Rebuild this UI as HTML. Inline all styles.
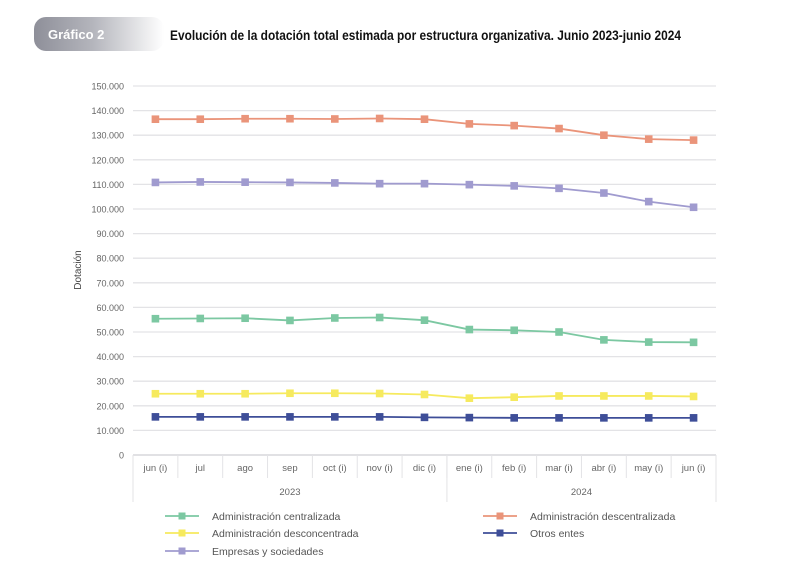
<!DOCTYPE html>
<html><head><meta charset="utf-8">
<style>
html,body{margin:0;padding:0;background:#fff;}
svg{display:block;font-family:"Liberation Sans",sans-serif;}
</style></head>
<body>
<svg id="chart" width="800" height="582" viewBox="0 0 800 582">
<defs>
<linearGradient id="bg" x1="0" x2="1" y1="0" y2="0">
<stop offset="0" stop-color="#8e8f99"/><stop offset="0.45" stop-color="#b4b5bc"/><stop offset="1" stop-color="#ffffff"/>
</linearGradient>
</defs>
<rect x="34" y="17" width="130" height="34" rx="12" fill="url(#bg)"/>
<text x="48" y="39" fill="#fff" font-size="13" font-weight="bold">Gráfico 2</text>
<text x="170" y="40" fill="#111" font-size="14" font-weight="bold" textLength="511" lengthAdjust="spacingAndGlyphs">Evolución de la dotación total estimada por estructura organizativa. Junio 2023-junio 2024</text>
<text transform="translate(81,270) rotate(-90)" text-anchor="middle" font-size="10" fill="#444">Dotación</text>
<g id="grid"></g>
<g id="series"></g>
<g id="legend"></g>
</svg>
<script>
const categories=["jun (i)","jul","ago","sep","oct (i)","nov (i)","dic (i)","ene (i)","feb (i)","mar (i)","abr (i)","may (i)","jun (i)"];
const years=["2023","2024"];
const yearSpans=[7,6];
const yTicks=[0,10000,20000,30000,40000,50000,60000,70000,80000,90000,100000,110000,120000,130000,140000,150000];
const centralizada=[55400,55500,55600,54700,55700,55900,54800,51000,50700,50000,46800,45900,45800];
const descentralizada=[136500,136500,136700,136700,136600,136800,136500,134600,133900,132700,130000,128400,128000];
const desconcentrada=[24900,24900,24900,25100,25100,25000,24600,23100,23500,24000,24000,24000,23800];
const otros=[15500,15500,15500,15500,15500,15500,15300,15200,15100,15100,15100,15100,15100];
const empresas=[110800,111000,110900,110800,110600,110300,110300,109900,109400,108400,106500,103000,100700];

const NS="http://www.w3.org/2000/svg";
const X0=133,X1=716,Y0=455,Y1=86,YMAX=150000;
const cw=(X1-X0)/categories.length;
const xc=i=>X0+cw*(i+0.5);
const y=v=>Y0-(v/YMAX)*(Y0-Y1);
function mk(tag,attrs,parent){const e=document.createElementNS(NS,tag);for(const k in attrs)e.setAttribute(k,attrs[k]);parent.appendChild(e);return e;}
const grid=document.getElementById('grid');
yTicks.forEach(t=>{
  const l=mk('line',{x1:X0,x2:X1,y1:y(t),y2:y(t),stroke:t===0?'#cfcfd4':'#e3e3e6','stroke-width':1.3},grid);
  
  
  const tx=mk('text',{x:124,y:y(t)+3.5,'text-anchor':'end','font-size':9,fill:'#666'},grid);
  tx.textContent=t===0?'0':t.toLocaleString('de-DE');
  
  
});
categories.forEach((c,i)=>{
  const tx=mk('text',{x:xc(i),y:471,'text-anchor':'middle','font-size':9.5,fill:'#666'},grid);
  tx.textContent=c;
  
  
  if(i>0){const l=mk('line',{x1:X0+cw*i,x2:X0+cw*i,y1:Y0,y2:478,stroke:'#e3e3e6'},grid);
  
  }
});
let acc=0;
mk('line',{x1:X0,x2:X0,y1:Y0,y2:502,stroke:'#e3e3e6'},grid);
years.forEach((yr,k)=>{
  const s=acc,e=acc+yearSpans[k];acc=e;
  const l=mk('line',{x1:X0+cw*e,x2:X0+cw*e,y1:Y0,y2:502,stroke:'#e3e3e6'},grid);
  
  
  const tx=mk('text',{x:X0+cw*(s+e)/2,y:495,'text-anchor':'middle','font-size':9.5,fill:'#666'},grid);
  tx.textContent=yr;
  
  
});
const series=[
 {name:'Administración centralizada',data:centralizada,color:'#7cc8a2',lx:165,ly:516},
 {name:'Administración descentralizada',data:descentralizada,color:'#ea947a',lx:483,ly:516},
 {name:'Administración desconcentrada',data:desconcentrada,color:'#f6ea5e',lx:165,ly:533},
 {name:'Otros entes',data:otros,color:'#3e4e98',lx:483,ly:533},
 {name:'Empresas y sociedades',data:empresas,color:'#a09bcf',lx:165,ly:551}
];
const sg=document.getElementById('series'),lg=document.getElementById('legend');
series.forEach(s=>{
  const p=mk('polyline',{points:s.data.map((v,i)=>xc(i)+','+y(v)).join(' '),fill:'none',stroke:s.color,'stroke-width':1.8},sg);
  
  
  s.data.forEach((v,i)=>{
    const r=mk('rect',{x:xc(i)-3.8,y:y(v)-3.8,width:7.6,height:7.6,fill:s.color},sg);
    
    
  });
  const l=mk('line',{x1:s.lx,x2:s.lx+34,y1:s.ly,y2:s.ly,stroke:s.color,'stroke-width':1.8},lg);
  
  
  const r=mk('rect',{x:s.lx+13.5,y:s.ly-3.5,width:7,height:7,fill:s.color},lg);
  
  
  const t=mk('text',{x:s.lx+47,y:s.ly+3.8,'font-size':10.5,fill:'#555'},lg);
  t.textContent=s.name;
  
  
});
</script>
</body></html>
